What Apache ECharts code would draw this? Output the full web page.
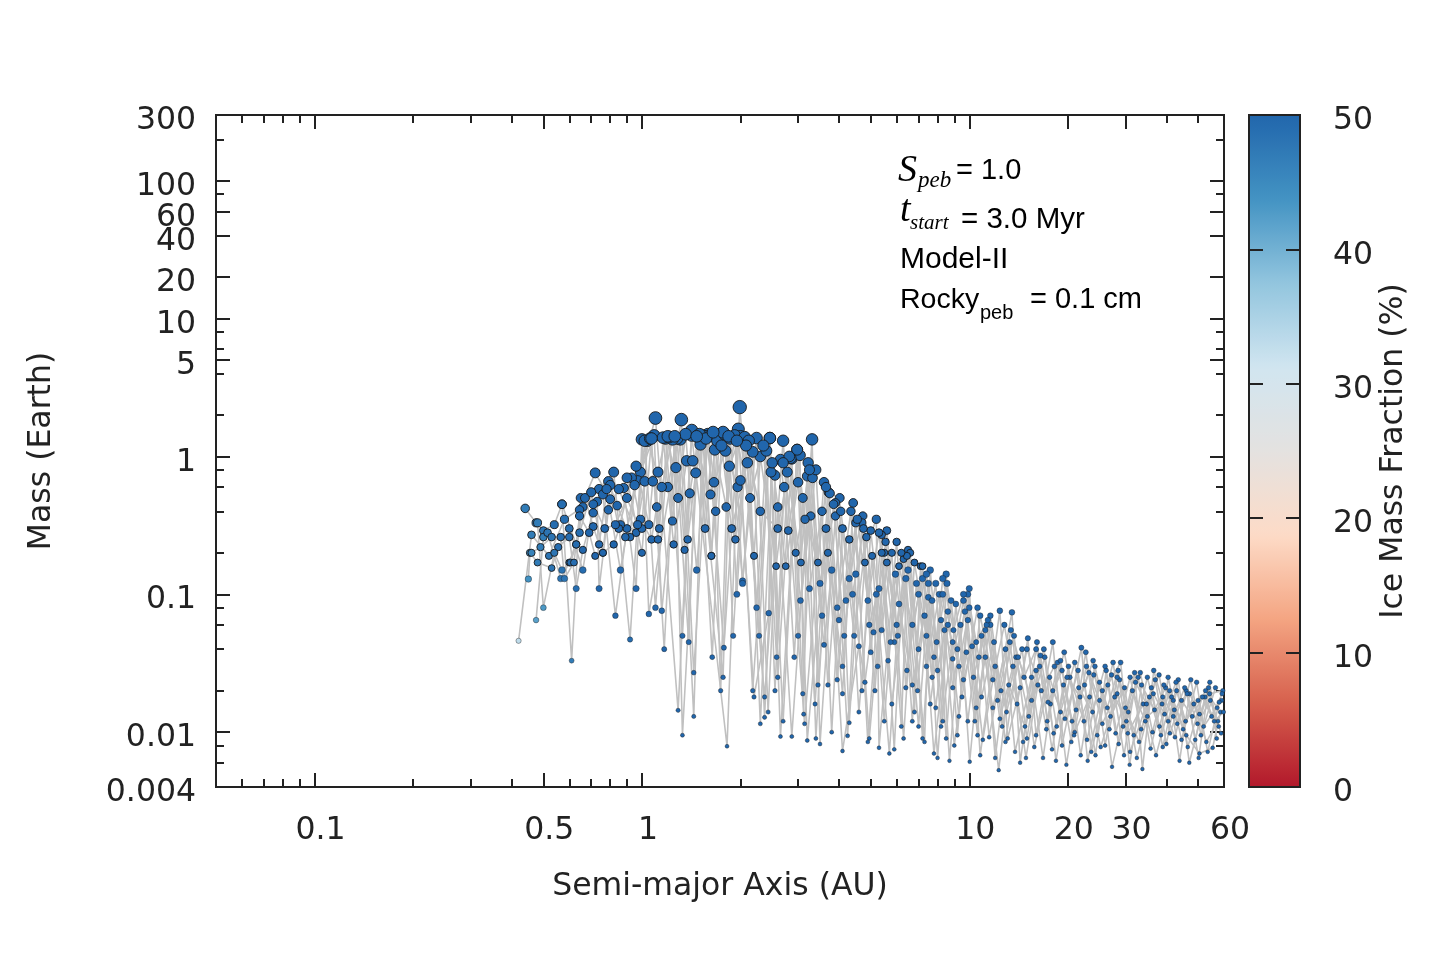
<!DOCTYPE html>
<html>
<head>
<meta charset="utf-8">
<title>Mass vs semi-major axis</title>
<script src="https://cdn.jsdelivr.net/npm/echarts@6/dist/echarts.min.js"></script>
<style>
  html, body { margin: 0; padding: 0; background: #fff; }
  #chart { width: 1440px; height: 960px; }
</style>
</head>
<body>
<div id="chart"></div>
<script>
// each run: [semi-major axis (AU), mass (Earth), ice mass fraction (%)], sorted by a
var run1 = [[0.42,0.046,33],[0.46,0.27,47],[0.52,0.19,48],[0.58,0.35,49],[0.66,0.43,50],[0.74,0.58,50],[0.82,0.77,50],[0.92,0.047,49],[0.99,0.77,50],[1.10,1.9,50],[1.29,0.0144,50],[1.42,1.42,50],[1.82,0.0079,50],[1.99,2.28,50],[2.37,0.018,50],[2.7,1.3,50],[3.14,0.0115,50],[3.6,0.65,50],[4.1,0.019,50],[4.42,0.46,50],[4.95,0.009,50],[5.6,0.29,50],[6.2,0.011,50],[6.5,0.21,50],[7.3,0.0085,50],[7.6,0.15,50],[8.3,0.012,50],[8.5,0.14,50],[9.2,0.0095,50],[10.0,0.11,50],[10.8,0.0068,50],[12.4,0.076,50],[13.1,0.009,50],[14.3,0.021,50],[15.1,0.048,50],[16.0,0.0095,50],[18.0,0.045,50],[19.2,0.008,50],[22.0,0.041,50],[23.6,0.0072,50],[27.5,0.032,50],[29.5,0.011,50],[32.0,0.027,50],[33.8,0.0054,50],[36.6,0.028,50],[40.5,0.012,50],[43.5,0.024,50],[47.0,0.006,50],[54.3,0.023,50],[57,0.009,50]];
var run2 = [[0.44,0.42,47],[0.475,0.33,48],[0.5,0.29,48],[0.54,0.32,49],[0.57,0.45,49],[0.61,0.033,47],[0.645,0.41,50],[0.72,0.76,50],[0.8,0.49,50],[0.88,0.59,50],[0.96,0.11,50],[1.0,1.33,50],[1.05,0.072,50],[1.32,1.85,50],[1.44,0.027,50],[1.59,1.45,50],[1.78,0.041,50],[1.97,1.58,50],[2.18,0.02,50],[2.46,1.36,50],[2.65,0.0093,50],[2.98,1.12,50],[3.2,0.0087,50],[3.72,0.55,50],[4.0,0.065,50],[4.73,0.37,50],[5.0,0.038,50],[5.4,0.27,50],[5.9,0.0075,50],[6.3,0.18,50],[6.8,0.014,50],[7.1,0.16,50],[7.8,0.007,50],[8.8,0.09,50],[9.5,0.018,50],[10.6,0.08,50],[11.5,0.0092,50],[13.5,0.074,50],[14.3,0.006,50],[16.1,0.045,50],[17.3,0.012,50],[18.6,0.032,50],[20.5,0.0085,50],[22.7,0.038,50],[24.6,0.0095,50],[26.5,0.022,50],[29.0,0.032,50],[31.0,0.0072,50],[35.5,0.018,50],[38.5,0.0095,50],[40.5,0.025,50],[44.5,0.0088,50],[49.5,0.023,50],[52,0.011,50],[59,0.017,50]];
var run3 = [[0.45,0.129,44],[0.455,0.2,46],[0.48,0.17,47],[0.53,0.155,48],[0.555,0.22,49],[0.6,0.26,49],[0.63,0.11,49],[0.66,0.21,50],[0.71,0.39,50],[0.76,0.53,50],[0.83,0.07,50],[0.9,0.3,50],[0.97,0.67,50],[1.09,1.42,50],[1.15,0.076,50],[1.27,0.83,50],[1.33,0.0095,50],[1.49,1.38,50],[1.77,0.025,50],[1.86,1.35,50],[2.03,0.125,50],[2.24,1.36,50],[2.43,0.014,50],[2.6,0.43,50],[2.87,0.0093,50],[3.31,1.33,50],[3.5,0.0082,50],[3.9,0.37,50],[4.25,0.0094,50],[4.5,0.14,50],[5.2,0.35,50],[5.3,0.0077,50],[6.0,0.24,50],[6.4,0.021,50],[6.9,0.12,50],[7.4,0.03,50],[8.1,0.1,50],[8.7,0.0062,50],[9.4,0.06,50],[10.03,0.0061,50],[10.9,0.05,50],[11.8,0.015,50],[12.9,0.04,50],[13.8,0.0072,50],[15.5,0.025,50],[16.8,0.0065,50],[18.0,0.02,50],[19.6,0.0125,50],[21.5,0.028,50],[23.0,0.0062,50],[25.5,0.02,50],[27.3,0.0056,50],[30,0.015,50],[33,0.0085,50],[36,0.021,50],[39,0.0078,50],[42,0.017,50],[46,0.0095,50],[50.5,0.007,50],[55.4,0.0077,50],[58.5,0.014,50]];
var run4 = [[0.475,0.065,42],[0.5,0.26,47],[0.515,0.28,48],[0.565,0.13,48],[0.6,0.17,49],[0.645,0.28,49],[0.65,0.5,50],[0.73,0.47,50],[0.74,0.11,50],[0.79,0.41,50],[0.85,0.58,50],[0.96,0.28,50],[1.02,0.66,50],[1.12,0.77,50],[1.18,1.35,50],[1.24,0.34,50],[1.31,1.33,50],[1.44,0.013,50],[1.53,1.42,50],[1.63,0.19,50],[1.73,1.45,50],[1.85,0.85,50],[2.0,1.4,50],[2.2,0.19,50],[2.3,1.0,50],[2.57,0.16,50],[2.78,0.77,50],[3.06,0.17,50],[3.22,0.9,50],[3.45,0.022,50],[3.7,0.2,50],[4.1,0.03,50],[4.3,0.13,50],[4.8,0.023,50],[5.2,0.1,50],[5.7,0.007,50],[6.1,0.085,50],[6.7,0.022,50],[7.3,0.07,50],[7.9,0.015,50],[8.4,0.055,50],[9.0,0.008,50],[9.8,0.038,50],[10.4,0.012,50],[11.2,0.035,50],[12.3,0.0053,50],[13.2,0.022,50],[14.8,0.011,50],[16.4,0.03,50],[17.9,0.0075,50],[19.4,0.022,50],[21,0.01,50],[23.3,0.018,50],[25.2,0.0078,50],[28.3,0.019,50],[30.5,0.0098,50],[34,0.016,50],[37.2,0.0068,50],[41.5,0.018,50],[45,0.0105,50],[48.5,0.016,50],[53,0.0085,50],[57.5,0.012,50]];
var run5 = [[0.48,0.33,47],[0.5,0.08,43],[0.54,0.2,48],[0.57,0.15,48],[0.605,0.17,49],[0.63,0.23,49],[0.67,0.5,50],[0.71,0.31,50],[0.74,0.23,50],[0.79,0.66,50],[0.84,0.44,50],[0.92,0.26,50],[0.96,0.85,50],[1.05,0.32,50],[1.08,0.66,50],[1.2,0.6,50],[1.28,1.35,50],[1.35,0.21,50],[1.42,1.55,50],[1.62,0.53,50],[1.67,1.12,50],[1.81,0.43,50],[1.92,1.42,50],[2.03,0.12,50],[2.18,1.08,50],[2.37,0.0128,50],[2.55,0.73,50],[2.6,0.025,50],[2.87,0.96,50],[3.1,0.019,50],[3.28,0.37,50],[3.6,0.043,50],[3.8,0.15,50],[4.1,0.0073,50],[4.6,0.042,50],[4.8,0.17,50],[5.1,0.053,50],[5.5,0.2,50],[5.9,0.045,50],[6.4,0.13,50],[7.0,0.011,50],[7.5,0.095,50],[8.0,0.028,50],[8.6,0.075,50],[9.3,0.013,50],[9.9,0.065,50],[10.5,0.015,50],[11.6,0.06,50],[12.6,0.011,50],[13.9,0.035,50],[15.2,0.013,50],[17.0,0.035,50],[18.4,0.0062,50],[20.3,0.025,50],[22.4,0.012,50],[24.2,0.03,50],[26.8,0.0105,50],[28.8,0.024,50],[31.8,0.0095,50],[35,0.025,50],[38.1,0.011,50],[40.9,0.02,50],[43.9,0.0062,50],[47.1,0.019,50],[50.5,0.0135,50],[54.2,0.019,50],[59.5,0.02,50]];
var run6 = [[0.46,0.2,46],[0.49,0.22,47],[0.53,0.26,48],[0.565,0.26,49],[0.58,0.13,48],[0.62,0.17,49],[0.645,0.37,50],[0.69,0.28,50],[0.72,0.19,50],[0.76,0.2,50],[0.82,0.23,50],[0.86,0.32,50],[0.89,0.26,50],[0.99,0.35,50],[1.07,0.25,50],[1.11,0.43,50],[1.12,0.25,50],[1.16,1.37,50],[1.25,0.23,50],[1.37,0.93,50],[1.43,0.93,50],[1.51,1.22,50],[1.6,1.4,50],[1.66,0.65,50],[1.8,1.1,50],[1.96,0.6,50],[2.0,0.67,50],[2.2,0.018,50],[2.44,0.073,50],[2.48,0.77,50],[2.65,0.95,50],[2.8,0.29,50],[3.04,1.02,50],[3.12,0.0135,50],[3.2,0.72,50],[3.4,0.009,50],[3.75,0.54,50],[4.02,0.5,50],[4.3,0.0117,50],[4.7,0.33,50],[4.95,0.06,50],[5.3,0.11,50],[5.8,0.016,50],[6.6,0.2,50],[7.2,0.009,50],[7.7,0.09,50],[8.2,0.011,50],[8.9,0.045,50],[9.6,0.024,50],[10.2,0.042,50],[11.0,0.0088,50],[12.0,0.03,50],[13.0,0.014,50],[14.5,0.04,50],[15.8,0.0078,50],[17.6,0.025,50],[19.0,0.014,50],[21.0,0.032,50],[22.9,0.0088,50],[25.0,0.023,50],[27.0,0.013,50],[29.8,0.021,50],[32.5,0.0065,50],[35,0.013,50],[38.8,0.016,50],[42.5,0.0092,50],[46,0.02,50],[49,0.0088,50],[52.5,0.018,50],[56,0.012,50],[59.8,0.014,50]];
var run7 = [[0.57,0.45,49],[0.63,0.23,49],[0.7,0.55,50],[0.76,0.2,50],[0.8,0.62,50],[0.85,0.3,50],[0.93,0.7,50],[1.0,0.3,50],[1.04,1.3,50],[1.15,0.6,50],[1.24,1.33,50],[1.38,0.25,50],[1.46,0.76,50],[1.55,1.4,50],[1.63,0.19,50],[1.7,1.3,50],[1.79,1.45,50],[1.9,0.05,50],[2.06,1.38,50],[2.3,0.4,50],[2.6,0.3,50],[2.85,0.97,50],[3.0,0.05,50],[3.32,0.7,50],[3.5,0.12,50],[3.9,0.46,50],[4.2,0.09,50],[4.5,0.33,50],[4.9,0.0085,50],[5.4,0.2,50],[5.65,0.033,50],[6.1,0.16,50],[6.7,0.06,50],[7.2,0.13,50],[7.8,0.035,50],[8.3,0.1,50],[8.9,0.021,50],[9.7,0.075,50],[10.6,0.0095,50],[11.2,0.055,50],[12.0,0.0065,50],[13.3,0.045,50],[14.6,0.0085,50],[16.0,0.028,50],[17.2,0.0105,50],[19.0,0.033,50],[20.6,0.012,50],[22.5,0.022,50],[24.3,0.0068,50],[26.2,0.028,50],[28.6,0.0082,50],[31.5,0.02,50],[34.5,0.012,50],[37,0.024,50],[40,0.0082,50],[43,0.02,50],[45.8,0.012,50],[50,0.017,50],[53.5,0.0072,50],[58,0.0165,50]];
var run8 = [[0.6,0.3,49],[0.66,0.15,49],[0.71,0.45,50],[0.77,0.3,50],[0.83,0.32,50],[0.9,0.5,50],[0.97,0.32,50],[1.02,1.3,50],[1.1,0.08,50],[1.21,1.38,50],[1.33,0.05,50],[1.4,0.54,50],[1.5,1.45,50],[1.64,0.035,50],[1.75,1.2,50],[1.88,0.3,50],[2.1,0.9,50],[2.28,0.05,50],[2.46,1.36,50],[2.7,0.012,50],[2.98,1.12,50],[3.15,0.35,50],[3.45,0.17,50],[3.65,0.6,50],[3.95,0.08,50],[4.35,0.4,50],[4.7,0.02,50],[5.0,0.29,50],[5.4,0.055,50],[5.8,0.2,50],[6.3,0.009,50],[6.8,0.17,50],[7.4,0.05,50],[7.9,0.12,50],[8.5,0.009,50],[9.1,0.085,50],[9.9,0.012,50],[10.8,0.07,50],[11.8,0.024,50],[12.8,0.06,50],[14.0,0.016,50],[15.0,0.04,50],[16.6,0.02,50],[18.2,0.03,50],[19.8,0.0058,50],[21.6,0.021,50],[23.8,0.014,50],[26,0.03,50],[28,0.0098,50],[31,0.025,50],[33.5,0.0105,50],[36.5,0.019,50],[39.5,0.0135,50],[42.8,0.023,50],[46.5,0.0078,50],[51.5,0.018,50],[55,0.013,50],[59.2,0.019,50]];
var run9 = [[0.78,0.58,50],[0.86,0.15,50],[0.95,0.62,50],[1.06,1.35,50],[1.13,0.3,50],[1.2,1.4,50],[1.29,0.5,50],[1.36,1.45,50],[1.47,0.15,50],[1.57,1.35,50],[1.68,0.4,50],[1.77,1.5,50],[1.93,0.25,50],[2.12,1.3,50],[2.3,0.0115,50],[2.5,0.9,50],[2.75,0.16,50],[3.0,0.65,50],[3.25,0.11,50],[3.55,0.4,50],[3.8,0.01,50],[4.1,0.3,50],[4.45,0.05,50],[4.85,0.26,50],[5.25,0.03,50],[5.6,0.17,50],[6.05,0.05,50],[6.5,0.15,50],[7.0,0.04,50],[7.5,0.12,50],[8.0,0.0065,50],[8.6,0.06,50],[9.3,0.03,50],[10.0,0.08,50],[10.9,0.018,50],[11.9,0.045,50],[12.9,0.0085,50],[14.1,0.035,50],[15.5,0.017,50],[16.9,0.04,50],[18.5,0.011,50],[20.1,0.03,50],[21.9,0.0068,50],[24,0.026,50],[26.4,0.015,50],[28.5,0.028,50],[30.9,0.0058,50],[33.6,0.022,50],[36.8,0.0145,50],[39.8,0.021,50],[43.2,0.0115,50],[47.5,0.024,50],[51,0.0095,50],[56.5,0.021,50]];
var run10 = [[0.9,0.7,50],[1.0,0.2,50],[1.07,1.35,50],[1.17,0.04,50],[1.26,1.4,50],[1.39,0.045,50],[1.47,1.4,50],[1.56,0.3,50],[1.65,1.5,50],[1.74,0.02,50],[1.84,1.4,50],[1.95,0.1,50],[2.08,1.2,50],[2.24,0.08,50],[2.4,1.1,50],[2.55,0.02,50],[2.72,0.6,50],[2.92,0.035,50],[3.1,0.5,50],[3.38,0.016,50],[3.65,0.3,50],[3.95,0.024,50],[4.3,0.25,50],[4.6,0.014,50],[5.05,0.19,50],[5.5,0.012,50],[5.95,0.14,50],[6.45,0.028,50],[7.0,0.1,50],[7.6,0.016,50],[8.2,0.065,50],[8.9,0.034,50],[9.6,0.09,50],[10.3,0.025,50],[11.3,0.06,50],[12.4,0.0125,50],[13.6,0.03,50],[14.9,0.0065,50],[16.2,0.022,50],[17.7,0.016,50],[19.5,0.038,50],[21.2,0.0145,50],[23.2,0.027,50],[25.5,0.0115,50],[27.8,0.018,50],[30.2,0.012,50],[32.8,0.025,50],[35.8,0.0076,50],[39,0.018,50],[42,0.013,50],[45.5,0.021,50],[49.8,0.0115,50],[54.5,0.017,50],[58.8,0.0098,50]];
var run11 = [[1.95,1.3,50],[2.14,0.5,50],[2.35,1.2,50],[2.58,0.035,50],[2.82,1.0,50],[3.05,0.09,50],[3.4,0.8,50],[3.7,0.022,50],[4.05,0.4,50],[4.4,0.1,50],[4.75,0.3,50],[5.15,0.02,50],[5.55,0.24,50],[6.0,0.06,50],[6.45,0.19,50],[6.95,0.02,50],[7.4,0.14,50],[7.95,0.045,50],[8.55,0.12,50],[9.2,0.04,50],[9.9,0.1,50],[10.7,0.035,50],[11.6,0.07,50],[12.5,0.02,50],[13.7,0.05,50],[15.0,0.009,50],[16.5,0.036,50],[18.1,0.0098,50],[19.9,0.025,50],[21.8,0.018,50],[23.9,0.033,50],[26,0.008,50],[28.3,0.025,50],[30.6,0.014,50],[33.3,0.027,50],[36.3,0.01,50],[39.3,0.022,50],[42.3,0.0145,50],[46.3,0.019,50],[50.2,0.0065,50],[53.8,0.021,50],[57.8,0.011,50]];
var run12 = [[2.7,0.9,50],[2.95,0.2,50],[3.25,0.8,50],[3.55,0.07,50],[3.85,0.45,50],[4.15,0.05,50],[4.55,0.35,50],[4.9,0.09,50],[5.3,0.28,50],[5.75,0.045,50],[6.2,0.2,50],[6.7,0.012,50],[7.2,0.16,50],[7.7,0.025,50],[8.3,0.13,50],[8.95,0.055,50],[9.6,0.1,50],[10.5,0.045,50],[11.4,0.065,50],[12.2,0.017,50],[13.4,0.055,50],[14.7,0.025,50],[16.0,0.04,50],[17.4,0.0165,50],[19.2,0.028,50],[20.9,0.0095,50],[22.8,0.03,50],[25,0.017,50],[27.2,0.026,50],[29.7,0.0068,50],[32.2,0.023,50],[34.8,0.016,50],[38,0.026,50],[41,0.0098,50],[44.5,0.017,50],[48,0.013,50],[52.7,0.02,50],[57.2,0.015,50]];

// axis ticks and labels
var xMajorTicks = [0.1, 0.5, 1, 10, 20, 30, 60];
var xMinorTicks = [0.06, 0.07, 0.08, 0.09, 0.2, 0.3, 0.4, 0.6, 0.7, 0.8, 0.9, 2, 3, 4, 5, 6, 7, 8, 9, 40, 50];
var xLabels = [0.1, 0.5, 1, 10, 20, 30, 60];
var yMajorTicks = [0.01, 0.1, 1, 5, 10, 20, 40, 60, 100];
var yMinorTicks = [0.006, 0.008, 0.02, 0.04, 0.06, 0.08, 0.2, 0.4, 0.6, 0.8, 2, 4, 6, 8, 80, 200];
var yLabels = [0.004, 0.01, 0.1, 1, 5, 10, 20, 40, 60, 100, 300];
var iceColors = ['#b2182b', '#d6604d', '#f4a582', '#fddbc7', '#e4e2e0', '#d1e5f0', '#92c5de', '#4393c3', '#2166ac'];

var runs = [run1, run2, run3, run4, run5, run6, run7, run8, run9, run10, run11, run12];
var ink = '#222';
var axisFont = 'DejaVu Sans';
var fs = 31.5;

var xAxis = function(position, ticks, len, labels) {
	return {
		type: 'log', gridIndex: 0, position: position,
		min: 0.05, max: 60,
		axisLine: {show: false},
		splitLine: {show: false},
		axisTick: {show: true, inside: true, length: len, customValues: ticks, lineStyle: {color: ink, width: 2}},
		axisLabel: labels ? {
			show: true, customValues: labels, margin: 28, padding: [0, 0, 0, 12],
			color: ink, fontSize: fs, fontFamily: axisFont,
			formatter: function(v) { return String(v); }
		} : {show: false}
	};
};

// labels sit a couple of pixels below their tick, as in the original
var yAxis = function(position, ticks, len, labels) {
	return {
		type: 'log', gridIndex: 0, position: position,
		min: 0.004, max: 300,
		axisLine: {show: false},
		splitLine: {show: false},
		axisTick: {show: true, inside: true, length: len, customValues: ticks, lineStyle: {color: ink, width: 2}},
		axisLabel: labels ? {
			show: true, customValues: labels, margin: 20,
			verticalAlign: 'top', lineHeight: 12,
			color: ink, fontSize: fs, fontFamily: axisFont,
			formatter: function(v) { return String(v); }
		} : {show: false}
	};
};

var xMain = xAxis('bottom', xMajorTicks, 14, xLabels);
xMain.name = 'Semi-major Axis (AU)';
xMain.nameLocation = 'middle';
xMain.nameGap = 84;
xMain.nameTextStyle = {color: ink, fontSize: fs, fontFamily: axisFont};

var yMain = yAxis('left', yMajorTicks, 14, yLabels);
yMain.name = 'Mass (Earth)';
yMain.nameLocation = 'middle';
yMain.nameRotate = 90;
yMain.nameGap = 158;
yMain.nameTextStyle = {color: ink, fontSize: fs, fontFamily: axisFont};

var allPoints = [];
runs.forEach(function(r) {
	r.forEach(function(p) {
		allPoints.push({value: p, itemStyle: {borderWidth: p[1] > 0.15 ? 0.9 : 0.4}});
	});
});

var series = runs.map(function(r) {
	return {
		type: 'line', xAxisIndex: 0, yAxisIndex: 0,
		data: r.map(function(p) { return [p[0], p[1]]; }),
		symbol: 'none', silent: true, z: 1,
		lineStyle: {color: '#c0c0c0', width: 1.6}
	};
});
series.push({
	type: 'scatter', xAxisIndex: 0, yAxisIndex: 0, z: 3,
	data: allPoints,
	symbolSize: function(v) { return 2.2 + 8.5 * Math.cbrt(v[1]); },
	itemStyle: {borderColor: '#1a1a1a', opacity: 1}
});

var chart = echarts.init(document.getElementById('chart'));
var sans = '"Liberation Sans"';
var option = {
	animation: false,
	backgroundColor: '#fff',
	grid: [
		{left: 216, right: 216, top: 115, bottom: 173, show: true, borderColor: ink, borderWidth: 2, backgroundColor: 'transparent'},
		{left: 1249, top: 115, width: 51, height: 672, show: true, borderColor: ink, borderWidth: 2, backgroundColor: 'transparent', z: 10}
	],
	xAxis: [
		xMain,
		xAxis('bottom', xMinorTicks, 8, null),
		xAxis('top', xMajorTicks, 14, null),
		xAxis('top', xMinorTicks, 8, null),
		{type: 'value', gridIndex: 1, min: 0, max: 1, show: false}
	],
	yAxis: [
		yMain,
		yAxis('left', yMinorTicks, 8, null),
		yAxis('right', yMajorTicks, 14, null),
		yAxis('right', yMinorTicks, 8, null),
		{
			type: 'value', gridIndex: 1, position: 'left', min: 0, max: 50, interval: 10, z: 10,
			axisLine: {show: false}, splitLine: {show: false},
			axisTick: {inside: true, length: 14, lineStyle: {color: ink, width: 2}},
			axisLabel: {show: false}
		},
		{
			type: 'value', gridIndex: 1, position: 'right', min: 0, max: 50, interval: 10, z: 10,
			axisLine: {show: false}, splitLine: {show: false},
			axisTick: {inside: true, length: 14, lineStyle: {color: ink, width: 2}},
			axisLabel: {margin: 33, verticalAlign: 'top', lineHeight: 12, color: ink, fontSize: fs, fontFamily: axisFont},
			name: 'Ice Mass Fraction (%)', nameLocation: 'middle', nameRotate: 90, nameGap: 78,
			nameTextStyle: {color: ink, fontSize: fs, fontFamily: axisFont}
		}
	],
	visualMap: {
		type: 'continuous', min: 0, max: 50, dimension: 2,
		seriesIndex: runs.length,
		calculable: false, hoverLink: false, realtime: false,
		orient: 'vertical', left: 1249, top: 115, padding: 0,
		itemWidth: 51, itemHeight: 672,
		inRange: {color: iceColors}
	},
	graphic: [
		{type: 'text', x: 898, y: 171, style: {text: 'S', font: 'italic 38px "Liberation Serif"', fill: '#000', verticalAlign: 'middle', textVerticalAlign: 'middle'}},
		{type: 'text', x: 918, y: 181, style: {text: 'peb', font: 'italic 23px "Liberation Serif"', fill: '#000', verticalAlign: 'middle', textVerticalAlign: 'middle'}},
		{type: 'text', x: 956, y: 171, style: {text: '= 1.0', font: '29px ' + sans, fill: '#000', verticalAlign: 'middle', textVerticalAlign: 'middle'}},
		{type: 'text', x: 900, y: 211, style: {text: 't', font: 'italic 38px "Liberation Serif"', fill: '#000', verticalAlign: 'middle', textVerticalAlign: 'middle'}},
		{type: 'text', x: 910, y: 223, style: {text: 'start', font: 'italic 21px "Liberation Serif"', fill: '#000', verticalAlign: 'middle', textVerticalAlign: 'middle'}},
		{type: 'text', x: 961, y: 220, style: {text: '= 3.0 Myr', font: '29.5px ' + sans, fill: '#000', verticalAlign: 'middle', textVerticalAlign: 'middle'}},
		{type: 'text', x: 900, y: 260, style: {text: 'Model-II', font: '30px ' + sans, fill: '#000', verticalAlign: 'middle', textVerticalAlign: 'middle'}},
		{type: 'text', x: 900, y: 300, style: {text: 'Rocky', font: '28.5px ' + sans, fill: '#000', verticalAlign: 'middle', textVerticalAlign: 'middle'}},
		{type: 'text', x: 980, y: 313, style: {text: 'peb', font: '20px ' + sans, fill: '#000', verticalAlign: 'middle', textVerticalAlign: 'middle'}},
		{type: 'text', x: 1030, y: 300, style: {text: '= 0.1 cm', font: '29px ' + sans, fill: '#000', verticalAlign: 'middle', textVerticalAlign: 'middle'}}
	],
	series: series
};
chart.setOption(option);
</script>
</body>
</html>
